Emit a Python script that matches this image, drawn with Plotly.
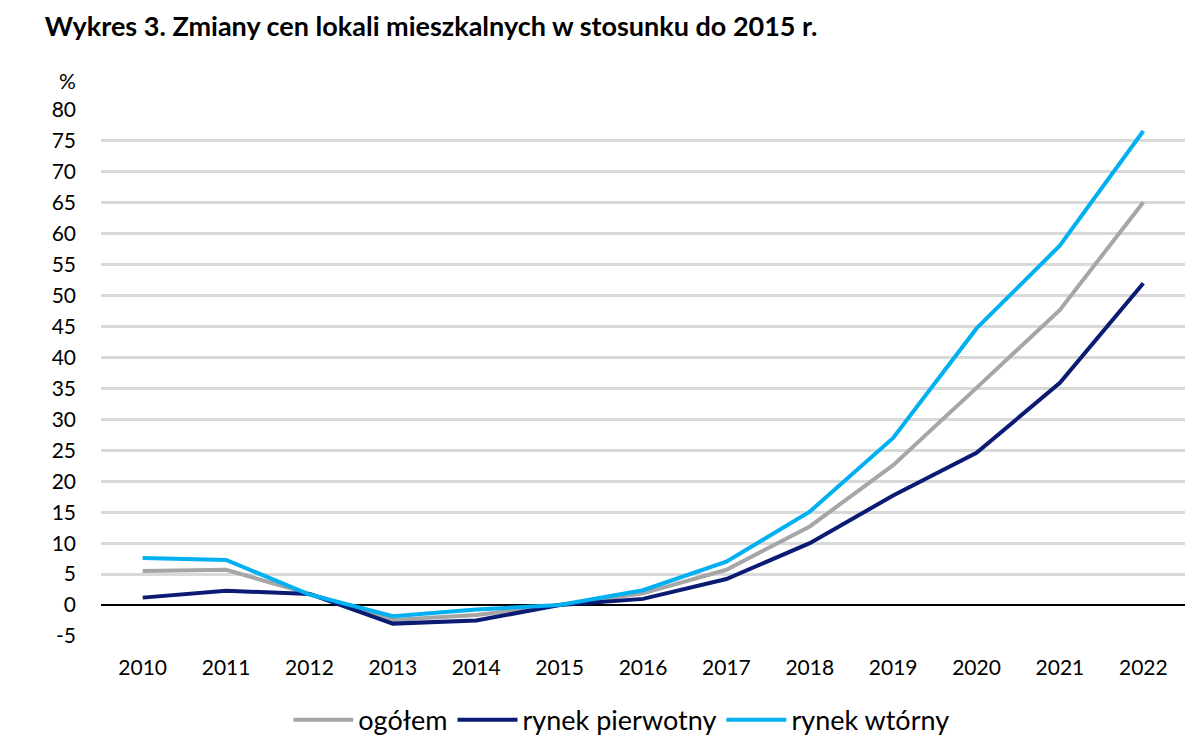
import plotly.graph_objects as go

years = ["2010", "2011", "2012", "2013", "2014", "2015", "2016",
         "2017", "2018", "2019", "2020", "2021", "2022"]
ogolem = [5.5, 5.7, 1.8, -2.4, -1.6, 0.0, 1.9, 5.7, 12.7, 22.6, 35.1, 47.7, 65.1]
pierwotny = [1.2, 2.3, 1.8, -3.0, -2.5, 0.0, 1.0, 4.2, 10.0, 17.7, 24.6, 35.9, 52.0]
wtorny = [7.6, 7.3, 1.7, -1.8, -0.7, 0.0, 2.4, 7.0, 15.1, 27.0, 44.7, 58.1, 76.6]
y_ticks = list(range(-5, 81, 5))
y_labels = [str(v).replace("\u2212", "-") for v in y_ticks]

font_main = "Lato, 'Open Sans', sans-serif"

fig = go.Figure()
series = [
    ("ogółem", ogolem, "#A6A6A6"),
    ("rynek pierwotny", pierwotny, "#0B1B73"),
    ("rynek wtórny", wtorny, "#00B0F0"),
]
for name, vals, col in series:
    fig.add_trace(go.Scatter(x=years, y=vals, name=name, mode="lines",
                             line=dict(color=col, width=4)))

# page has an 8px body margin: figure sized to fit the 1200x745 window
fig.update_layout(
    width=1184, height=729,
    paper_bgcolor="white", plot_bgcolor="white",
    margin=dict(l=93, r=7, t=102, b=101, autoexpand=False),
    font=dict(family=font_main, color="#000000", size=21),
    title=dict(text="<b>Wykres 3. Zmiany cen lokali mieszkalnych w stosunku do 2015 r.</b>",
               x=0.031, xanchor="left", y=0.974, yanchor="middle",
               font=dict(size=27, family=font_main)),
    showlegend=True,
    legend=dict(orientation="h", x=0.48, xanchor="center",
                yref="container", y=0.023, yanchor="middle",
                font=dict(size=27, family=font_main), itemwidth=60,
                traceorder="normal"),
)
fig.update_xaxes(type="category", range=[-0.5, 12.5], showgrid=False,
                 showline=False, ticks="", ticklabelstandoff=17,
                 tickfont=dict(size=21), automargin=False)
fig.update_yaxes(range=[-5, 80], tickvals=y_ticks, ticktext=y_labels,
                 showgrid=True, gridcolor="#D9D9D9", gridwidth=2.5,
                 zeroline=True, zerolinecolor="#000000", zerolinewidth=2,
                 showline=False, ticks="", ticklabelstandoff=24,
                 tickfont=dict(size=21), automargin=False)
fig.add_annotation(text="%", xref="paper", yref="paper", x=-0.031, y=1.0,
                   yshift=30, showarrow=False, font=dict(size=21),
                   xanchor="center", yanchor="middle")

fig.write_html("out.html")
